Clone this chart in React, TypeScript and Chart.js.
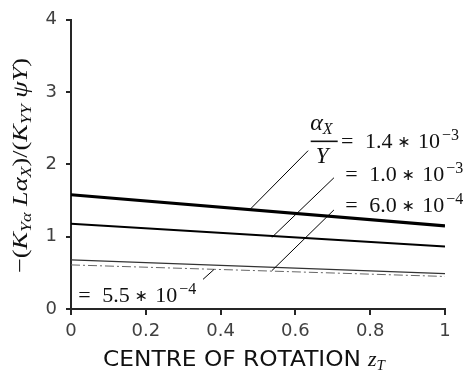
import React, { useEffect, useRef } from "react";
import { Chart, registerables } from "chart.js";

Chart.register(...registerables);

// Centre of rotation z_T (normalised)
const zT = [0, 1];

// Normalised ratio for each alpha_X / Y value
const ratio14e3 = [1.58, 1.15];
const ratio10e3 = [1.18, 0.865];
const ratio60e4 = [0.68, 0.49];
const ratio55e4 = [0.61, 0.45];

// Axis ticks
const xTicks = [0, 0.2, 0.4, 0.6, 0.8, 1];
const yTicks = [0, 1, 2, 3, 4];

// Curve labels: mantissa and exponent of alpha_X / Y
const labelMantissas = ["1.4", "1.0", "6.0", "5.5"];
const labelExponents = ["−3", "−3", "−4", "−4"];
// Label anchors (data units): start of "=" and text baseline
const labelAnchorX = [0.722, 0.733, 0.733, 0.0195];
const labelAnchorY = [2.22, 1.77, 1.342, 0.103];

// Leader lines from each curve to its label (data units)
const leaderFromX = [0.478, 0.537, 0.537, 0.353];
const leaderFromY = [1.374, 0.99, 0.53, 0.41];
const leaderToX = [0.634, 0.703, 0.703, 0.382];
const leaderToY = [2.19, 1.815, 1.37, 0.545];

// Fraction bar centre for alpha_X / Y (data units)
const fractionX = 0.677;
const fractionY = 2.319;

// Plot-area edges on the canvas
const AREA_TOP = 14;
const AREA_RIGHT = 445;

const SERIF = "'Liberation Serif', 'Times New Roman', serif";
const SANS = "'DejaVu Sans', Verdana, sans-serif";
const AXIS_COLOR = "#262626";
const TICK_TEXT = "#404040";

type Run = { t: string; italic?: boolean; size?: number; dy?: number };

function runsWidth(ctx: CanvasRenderingContext2D, runs: Run[], base: number) {
  let w = 0;
  for (const r of runs) {
    ctx.font = `${r.italic ? "italic " : ""}${r.size ?? base}px ${SERIF}`;
    w += ctx.measureText(r.t).width;
  }
  return w;
}

function drawRuns(ctx: CanvasRenderingContext2D, runs: Run[], x: number, y: number, base: number) {
  let cx = x;
  for (const r of runs) {
    ctx.font = `${r.italic ? "italic " : ""}${r.size ?? base}px ${SERIF}`;
    ctx.fillText(r.t, cx, y + (r.dy ?? 0));
    cx += ctx.measureText(r.t).width;
  }
  return cx - x;
}

const yTitleRuns: Run[] = [
  { t: "−(" },
  { t: "K", italic: true },
  { t: "Yα", italic: true, size: 15, dy: 4 },
  { t: " " },
  { t: "L", italic: true },
  { t: "α", italic: true },
  { t: "X", italic: true, size: 15, dy: 4 },
  { t: ")/(" },
  { t: "K", italic: true },
  { t: "YY", italic: true, size: 15, dy: 4 },
  { t: " " },
  { t: "ψY", italic: true },
  { t: ")" },
];

const annotations = {
  id: "ratioAnnotations",
  afterDraw(chart: Chart) {
    const ctx = chart.ctx;
    const xs = chart.scales.x;
    const ys = chart.scales.y;
    const px = (v: number) => xs.getPixelForValue(v);
    const py = (v: number) => ys.getPixelForValue(v);
    ctx.save();

    // leader lines
    ctx.strokeStyle = "#000";
    ctx.lineWidth = 1;
    for (let i = 0; i < leaderFromX.length; i++) {
      ctx.beginPath();
      ctx.moveTo(px(leaderFromX[i]), py(leaderFromY[i]));
      ctx.lineTo(px(leaderToX[i]), py(leaderToY[i]));
      ctx.stroke();
    }

    // "= m ∗ 10^e" labels
    ctx.fillStyle = "#111";
    ctx.textBaseline = "alphabetic";
    const base = 22;
    for (let i = 0; i < labelMantissas.length; i++) {
      const x0 = px(labelAnchorX[i]);
      const y0 = py(labelAnchorY[i]);
      ctx.textAlign = "left";
      ctx.font = `${base}px ${SERIF}`;
      ctx.fillText("=", x0, y0);
      ctx.fillText(labelMantissas[i], x0 + 24, y0);
      ctx.fillText("10", x0 + 77, y0);
      ctx.font = `16px ${SERIF}`;
      ctx.fillText(labelExponents[i], x0 + 101, y0 - 8);
      ctx.textAlign = "center";
      ctx.font = `16px ${SANS}`;
      ctx.fillText("∗", x0 + 63, y0 - 1);
    }
    ctx.textAlign = "left";

    // alpha_X / Y fraction
    const fx = px(fractionX);
    const fy = py(fractionY);
    ctx.lineWidth = 1.6;
    ctx.strokeStyle = "#111";
    ctx.beginPath();
    ctx.moveTo(fx - 13.5, fy);
    ctx.lineTo(fx + 13.5, fy);
    ctx.stroke();
    drawRuns(ctx, [{ t: "α", italic: true, size: 24 }, { t: "X", italic: true, size: 16, dy: 4 }], fx - 14, fy - 11, base);
    ctx.font = `italic 23px ${SERIF}`;
    ctx.textAlign = "center";
    ctx.fillText("Y", fx - 2, fy + 22);
    ctx.textAlign = "left";

    // x-axis title
    const titleY = 366;
    ctx.font = `21px ${SANS}`;
    const words = "CENTRE OF ROTATION";
    const natural = ctx.measureText(words).width;
    const target = 258;
    ctx.save();
    ctx.translate(103, titleY);
    ctx.scale(target / natural, 1);
    ctx.fillText(words, 0, 0);
    ctx.restore();
    drawRuns(ctx, [{ t: "z", italic: true, size: 22 }, { t: "T", italic: true, size: 15, dy: 4 }], 368, titleY, base);

    // y-axis title (rotated)
    const yBase = 22;
    const w = runsWidth(ctx, yTitleRuns, yBase);
    const len = 215;
    ctx.save();
    ctx.translate(27, 165.5);
    ctx.rotate(-Math.PI / 2);
    ctx.scale(len / w, 1);
    drawRuns(ctx, yTitleRuns, -w / 2, 0, yBase);
    ctx.restore();

    ctx.restore();
  },
};

function toPoints(values: number[]) {
  return zT.map((z, i) => ({ x: z, y: values[i] }));
}

export default function App() {
  const canvasRef = useRef<HTMLCanvasElement | null>(null);

  useEffect(() => {
    const canvas = canvasRef.current;
    if (!canvas) return;
    const chart = new Chart(canvas, {
      type: "line",
      data: {
        datasets: [
          {
            label: "1.4e-3",
            data: toPoints(ratio14e3),
            borderColor: "#000",
            borderWidth: 3.2,
          },
          {
            label: "1.0e-3",
            data: toPoints(ratio10e3),
            borderColor: "#000",
            borderWidth: 2,
          },
          {
            label: "6.0e-4",
            data: toPoints(ratio60e4),
            borderColor: "#333",
            borderWidth: 1.2,
          },
          {
            label: "5.5e-4",
            data: toPoints(ratio55e4),
            borderColor: "#666",
            borderWidth: 1,
            borderDash: [9, 3, 2, 3],
          },
        ],
      },
      options: {
        responsive: false,
        animation: false,
        devicePixelRatio: 1,
        layout: { padding: { left: 0, right: 23, top: AREA_TOP, bottom: 0 } },
        elements: { point: { radius: 0 }, line: { tension: 0, fill: false } },
        plugins: { legend: { display: false }, tooltip: { enabled: false } },
        scales: {
          x: {
            type: "linear",
            min: 0,
            max: 1,
            afterBuildTicks: (s: any) => {
              s.ticks = xTicks.map((v) => ({ value: v }));
            },
            afterFit: (s: any) => {
              s.height = 67;
            },
            ticks: {
              color: TICK_TEXT,
              font: { family: SANS, size: 18 },
              padding: 6,
              maxRotation: 0,
              callback: (v: any) => String(Number(Number(v).toFixed(1))),
            },
            grid: {
              drawOnChartArea: false,
              drawTicks: true,
              tickLength: 6,
              color: AXIS_COLOR,
              lineWidth: 2,
            },
            border: { display: true, color: AXIS_COLOR, width: 2 },
          },
          y: {
            type: "linear",
            min: 0,
            max: 4,
            afterBuildTicks: (s: any) => {
              s.ticks = yTicks.map((v) => ({ value: v }));
            },
            afterFit: (s: any) => {
              s.width = 71;
            },
            ticks: {
              color: TICK_TEXT,
              font: { family: SANS, size: 18 },
              padding: 9,
              callback: (v: any) => String(v),
            },
            grid: {
              drawOnChartArea: false,
              drawTicks: true,
              tickLength: 5,
              color: AXIS_COLOR,
              lineWidth: 2,
            },
            border: { display: true, color: AXIS_COLOR, width: 2 },
          },
        },
      },
      plugins: [annotations],
    });

    // Pin the plot area's top and right edges regardless of label overflow
    const pad = (chart.options.layout as any).padding;
    const area = chart.chartArea;
    const dTop = AREA_TOP - area.top;
    const dRight = area.right - AREA_RIGHT;
    if (Math.abs(dTop) > 0.5 || Math.abs(dRight) > 0.5) {
      pad.top = Math.max(0, pad.top + dTop);
      pad.right = Math.max(0, pad.right + dRight);
      chart.update();
    }

    return () => chart.destroy();
  }, []);

  return (
    <div style={{ position: "fixed", left: 0, top: 0, width: 468, height: 376, background: "#fff" }}>
      <canvas ref={canvasRef} width={468} height={376} style={{ width: 468, height: 376 }} />
    </div>
  );
}
